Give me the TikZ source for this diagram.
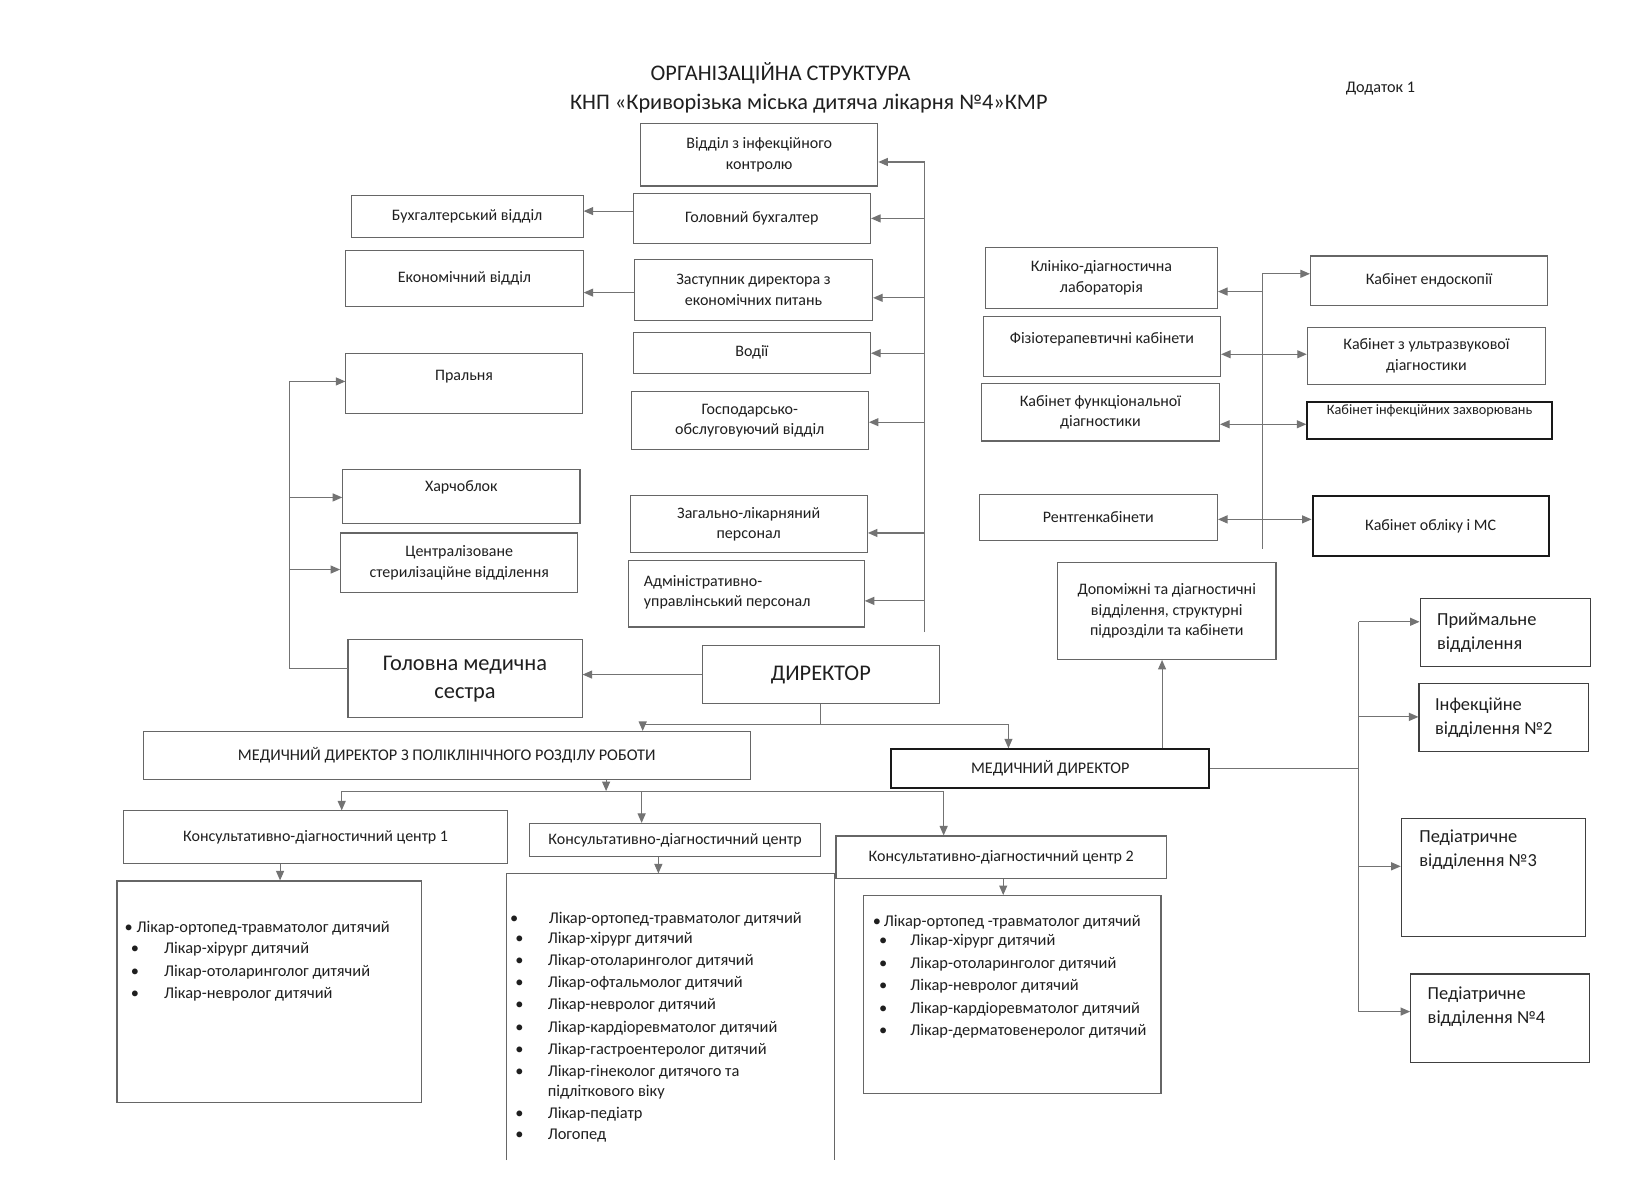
\documentclass[tikz,border=0pt]{standalone}
\usepackage{fontspec}
\setmainfont{Carlito}
\usetikzlibrary{arrows.meta}
\begin{document}
\begin{tikzpicture}[x=1.045pt,y=-1.045pt,
  sz/.style 2 args={minimum width={#1*1.045pt}, minimum height={#2*1.045pt}},
  box/.style={draw=black!60, line width=1.1pt, align=center, inner sep=2pt, text=black!88, font=\fontsize{16}{20.4}\selectfont},
  thickbox/.style={box, draw=black!90, line width=2pt},
  darkbox/.style={box, draw=black!75, line width=1.3pt},
  txt/.style={text=black!88, font=\fontsize{16}{20.4}\selectfont, align=center, inner sep=0pt},
  ltxt/.style={text=black!88, font=\fontsize{18.4}{24}\selectfont, align=left, inner sep=0pt, anchor=north west},
  line/.style={draw=black!55, line width=1.1pt},
  arr/.style={line, -{Triangle[length=9.5pt,width=8pt]}},
  item/.style={anchor=west, inner sep=0pt, text=black!88, font=\fontsize{16.4}{20}\selectfont},
]
\useasboundingbox[fill=white] (0,0) rectangle (1568.4,1133);

% titles
\node[txt, font=\fontsize{22.3}{26}\selectfont] (t1) at (747,70) {ОРГАНІЗАЦІЙНА СТРУКТУРА};
\node[txt, font=\fontsize{22.3}{26}\selectfont] (t2) at (774,99) {КНП «Криворізька міська дитяча лікарня №4»КМР};
\node[txt, font=\fontsize{16.2}{19}\selectfont] (t3) at (1321,85) {Додаток 1};

% central column
\node[box, sz={227}{60}] (inf) at (726.5,148) {Відділ з інфекційного\\контролю};
\node[box, sz={227}{48}] (gb) at (719.5,209) {Головний бухгалтер};
\node[box, sz={228}{59}] (zd) at (721,277.5) {Заступник директора з\\економічних питань};
\node[box, sz={227}{39}] (vo) at (719.5,337.5) {Водії};
\node[box, sz={227}{55}] (go) at (717.5,402.5) {Господарсько-\\обслуговуючий відділ};
\node[box, sz={227}{55}] (zl) at (716.5,501.5) {Загально-лікарняний\\персонал};
\node[box, sz={226}{64}] (au) at (714,568) {};
\node[txt, align=left, anchor=west] (aut) at (616,567) {Адміністративно-\\управлінський персонал};

% left column
\node[box, sz={222}{40}] (bv) at (447,207) {Бухгалтерський відділ};
\node[box, sz={227}{53}] (ev) at (444.5,266.5) {Економічний відділ};
\node[box, sz={226}{58}] (pr) at (444,367) {};
\node[txt] (prt) at (444,360) {Пральня};
\node[box, sz={227}{52}] (ha) at (441.5,475) {};
\node[txt] (hat) at (441.5,466) {Харчоблок};
\node[box, sz={227}{57}] (cs) at (439.5,538.5) {Централізоване\\стерилізаційне відділення};
\node[box, sz={224}{75}, font=\fontsize{22.4}{28.2}\selectfont] (gm) at (445,649.5) {Головна медична\\сестра};
\node[box, sz={227}{55}, font=\fontsize{22.4}{26}\selectfont] (dir) at (785.5,645.5) {ДИРЕКТОР};

% directors
\node[box, sz={581}{46}, font=\fontsize{16.3}{19}\selectfont] (mdp) at (427.5,723) {МЕДИЧНИЙ ДИРЕКТОР З ПОЛІКЛІНІЧНОГО РОЗДІЛУ РОБОТИ};
\node[thickbox, sz={304}{37}, font=\fontsize{16.2}{19}\selectfont] (md) at (1005,735.5) {МЕДИЧНИЙ ДИРЕКТОР};

% consult centres
\node[box, sz={368}{50}] (k1) at (302,801) {Консультативно-діагностичний центр 1};
\node[box, sz={278}{32}] (k0) at (646,804) {Консультативно-діагностичний центр};
\node[box, sz={316}{41}] (k2) at (958,820.5) {Консультативно-діагностичний центр 2};

% list boxes
\node[box, sz={291}{212}] (L1) at (257.5,949) {};
\node[sz={313}{274}, inner sep=0pt] (L0) at (641.5,973) {};
\draw[draw=black!60, line width=1.1pt] (L0.south west) -- (L0.north west) -- (L0.north east) -- (L0.south east);
\node[box, sz={285}{189}] (L2) at (968.5,951.5) {};

\node[item] (a1) at (119,888) {•\hspace{4pt}Лікар-ортопед-травматолог дитячий};
\node[item] (a2) at (125,908) {\makebox[33.4pt][l]{•}Лікар-хірург дитячий};
\node[item] (a3) at (125,930) {\makebox[33.4pt][l]{•}Лікар-отоларинголог дитячий};
\node[item] (a4) at (125,951) {\makebox[33.4pt][l]{•}Лікар-невролог дитячий};

\node[item] (b1) at (488,880) {\makebox[38.6pt][l]{•}Лікар-ортопед-травматолог дитячий};
\node[item] (b2) at (493,899) {\makebox[32.4pt][l]{•}Лікар-хірург дитячий};
\node[item] (b3) at (493,920) {\makebox[32.4pt][l]{•}Лікар-отоларинголог дитячий};
\node[item] (b4) at (493,941) {\makebox[32.4pt][l]{•}Лікар-офтальмолог дитячий};
\node[item] (b5) at (493,962) {\makebox[32.4pt][l]{•}Лікар-невролог дитячий};
\node[item] (b6) at (493,984) {\makebox[32.4pt][l]{•}Лікар-кардіоревматолог дитячий};
\node[item] (b7) at (493,1005) {\makebox[32.4pt][l]{•}Лікар-гастроентеролог дитячий};
\node[item] (b8) at (493,1026) {\makebox[32.4pt][l]{•}Лікар-гінеколог дитячого та};
\node[item] (b9) at (524,1045) {підліткового віку};
\node[item] (b10) at (493,1066) {\makebox[32.4pt][l]{•}Лікар-педіатр};
\node[item] (b11) at (493,1087) {\makebox[32.4pt][l]{•}Логопед};

\node[item] (c1) at (835,882) {•\hspace{3pt}Лікар-ортопед -травматолог дитячий};
\node[item] (c2) at (841,901) {\makebox[31.4pt][l]{•}Лікар-хірург дитячий};
\node[item] (c3) at (841,923) {\makebox[31.4pt][l]{•}Лікар-отоларинголог дитячий};
\node[item] (c4) at (841,944) {\makebox[31.4pt][l]{•}Лікар-невролог дитячий};
\node[item] (c5) at (841,966) {\makebox[31.4pt][l]{•}Лікар-кардіоревматолог дитячий};
\node[item] (c6) at (841,987) {\makebox[31.4pt][l]{•}Лікар-дерматовенеролог дитячий};

% diagnostic column
\node[box, sz={222}{58}] (kl) at (1054,266) {Клініко-діагностична\\лабораторія};
\node[box, sz={227}{57}] (fi) at (1054.5,331.5) {};
\node[txt] (fit) at (1054.5,325) {Фізіотерапевтичні кабінети};
\node[box, sz={228}{55}] (fu) at (1053,394.5) {Кабінет функціональної\\діагностики};
\node[box, sz={228}{44}] (re) at (1051,495) {Рентгенкабінети};
\node[box, sz={227}{47}] (en) at (1367.5,268.5) {Кабінет ендоскопії};
\node[box, sz={228}{55}] (uz) at (1365,340.5) {Кабінет з ультразвукової\\діагностики};
\node[thickbox, sz={234}{35}] (iz) at (1368,402.5) {};
\node[txt, font=\fontsize{14.3}{17}\selectfont] (izt) at (1368,393) {Кабінет інфекційних захворювань};
\node[thickbox, sz={226}{57}] (ob) at (1369,503.5) {Кабінет обліку і МС};
\node[box, sz={209}{93}] (dop) at (1116.5,584.5) {Допоміжні та діагностичні\\відділення, структурні\\підрозділи та кабінети};

% wards
\node[darkbox, sz={163}{65}] (pri) at (1440.5,605.5) {};
\node[ltxt] (prit) at (1375,586) {Приймальне\\відділення};
\node[darkbox, sz={162}{65}] (in2) at (1439,686.5) {};
\node[ltxt] (in2t) at (1373,668) {Інфекційне\\відділення №2};
\node[darkbox, sz={176}{113}] (p3) at (1429,839.5) {};
\node[ltxt] (p3t) at (1358,794) {Педіатричне\\відділення №3};
\node[darkbox, sz={171}{85}] (p4) at (1435.5,974.5) {};
\node[ltxt] (p4t) at (1366,944) {Педіатричне\\відділення №4};

% ---------- connectors ----------
% main spine to central column
\coordinate (s1top) at (885,155);
\coordinate (s1bot) at (885,605);
\draw[arr] (s1bot) -- (s1top) -- (s1top -| inf.east);
\foreach \nm/\yy in {gb/209, zd/285, vo/338, go/404, zl/510, au/575}{
  \coordinate (sp-\nm) at (885,\yy);
  \draw[arr] (sp-\nm) -- (sp-\nm -| \nm.east);
}
\coordinate (gbl) at (606,202);
\draw[arr] (gbl) -- (gbl -| bv.east);
\coordinate (zdl) at (607,280);
\draw[arr] (zdl) -- (zdl -| ev.east);

% director to head nurse
\draw[arr] (dir.west) -- (dir.west -| gm.east);
% head nurse left spine
\coordinate (gml) at (333,640);
\coordinate (lsp) at (277,640);
\coordinate (lspt) at (277,365);
\draw[line] (gml) -- (lsp) -- (lspt);
\draw[arr] (lspt) -- (lspt -| pr.west);
\coordinate (lha) at (277,476);
\draw[arr] (lha) -- (lha -| ha.west);
\coordinate (lcs) at (277,545);
\draw[arr] (lcs) -- (lcs -| cs.west);

% director down
\coordinate (dj) at (785.5,693);
\coordinate (dl) at (615,693);
\coordinate (dr) at (965,693);
\draw[line] (dir.south) -- (dj);
\draw[arr] (dj) -- (dl) -- (dl |- mdp.north);
\draw[arr] (dj) -- (dr) -- (dr |- md.north);

% poly director down
\coordinate (m1) at (580,757);
\draw[arr] (m1 |- mdp.south) -- (m1);
\coordinate (hl) at (327,757);
\coordinate (hm) at (614,757);
\coordinate (hr) at (903,757);
\draw[line] (hl) -- (hr);
\draw[arr] (hl) -- (hl |- k1.north);
\draw[arr] (hm) -- (hm |- k0.north);
\draw[arr] (hr) -- (hr |- k2.north);

% centres to lists
\coordinate (x1) at (268,830);
\draw[arr] (x1 |- k1.south) -- (x1 |- L1.north);
\coordinate (x0) at (630,830);
\draw[arr] (x0 |- k0.south) -- (x0 |- L0.north);
\coordinate (x2) at (960,850);
\draw[arr] (x2 |- k2.south) -- (x2 |- L2.north);

% medical director up to auxiliary
\coordinate (xd) at (1112,700);
\draw[arr] (xd |- md.north) -- (xd |- dop.south);

% diagnostic spine
\coordinate (r2t) at (1208,262);
\coordinate (r2b) at (1208,525);
\draw[line] (r2b) -- (r2t);
\draw[arr] (r2t) -- (r2t -| en.west);
\coordinate (r2k) at (1208,279);
\draw[arr] (r2k) -- (r2k -| kl.east);
\coordinate (r2f) at (1208,339);
\draw[arr] (r2f) -- (r2f -| fi.east);
\draw[arr] (r2f) -- (r2f -| uz.west);
\coordinate (r2u) at (1208,406);
\draw[arr] (r2u) -- (r2u -| fu.east);
\draw[arr] (r2u) -- (r2u -| iz.west);
\coordinate (r2r) at (1208,497);
\draw[arr] (r2r) -- (r2r -| re.east);
\draw[arr] (r2r) -- (r2r -| ob.west);

% medical director to wards
\coordinate (w0) at (1300,735.5);
\coordinate (wt) at (1300,595);
\coordinate (wb) at (1300,968);
\draw[line] (md.east) -- (w0);
\draw[line] (wt) -- (wb);
\draw[arr] (wt) -- (wt -| pri.west);
\coordinate (w2) at (1300,686);
\draw[arr] (w2) -- (w2 -| in2.west);
\coordinate (w3) at (1300,829);
\draw[arr] (w3) -- (w3 -| p3.west);
\draw[arr] (wb) -- (wb -| p4.west);
\end{tikzpicture}
\end{document}
